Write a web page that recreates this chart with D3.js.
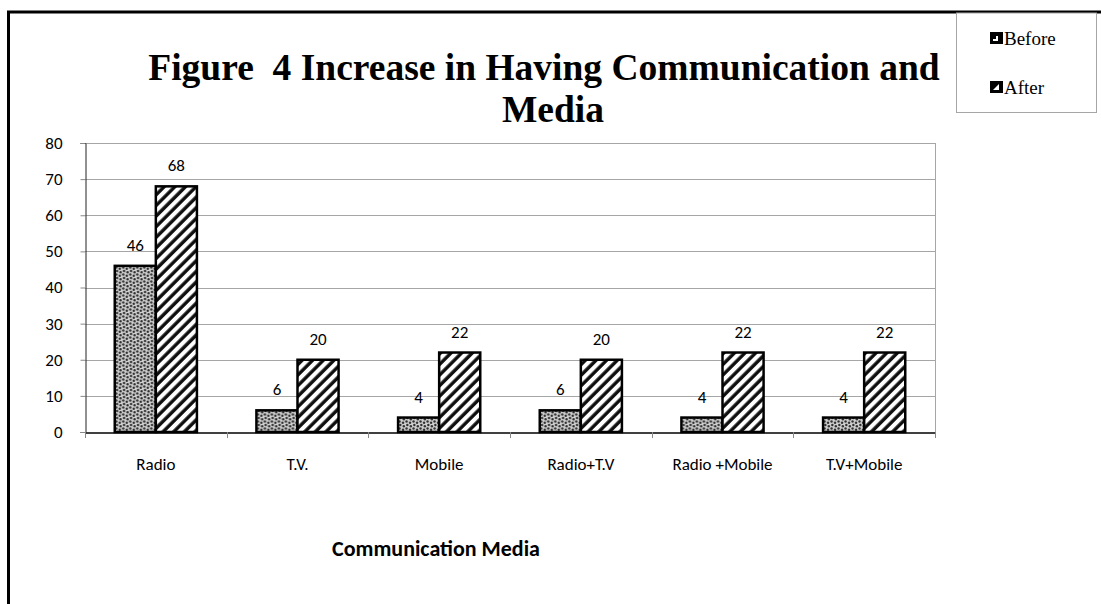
<!DOCTYPE html>
<html>
<head>
<meta charset="utf-8">
<script src="https://cdn.jsdelivr.net/npm/d3@7"></script>
<style>
  html, body { margin: 0; padding: 0; background: #fff; }
  svg { display: block; }
</style>
</head>
<body>
<svg id="chart" width="1101" height="604"></svg>
<script>
// Chart data
const categories = ["Radio", "T.V.", "Mobile", "Radio+T.V", "Radio +Mobile", "T.V+Mobile"];
const seriesNames = ["Before", "After"];
const beforeValues = [46, 6, 4, 6, 4, 4];
const afterValues = [68, 20, 22, 20, 22, 22];
const yTicks = [0, 10, 20, 30, 40, 50, 60, 70, 80];
const titleLines = ["Figure  4 Increase in Having Communication and", "Media"];
const xAxisTitle = "Communication Media";

const svg = d3.select("#chart");
const W = 1101, H = 604;
const plot = { left: 85, right: 935, top: 143, bottom: 432 };
const labelFont = "Carlito, Lato, 'Open Sans', sans-serif";
const labelSize = 17;
const serifFont = "'Liberation Serif', 'DejaVu Serif', serif";

// Fill patterns: fine dots for Before, wide diagonal stripes for After
const defs = svg.append("defs");
const soft = defs.append("filter").attr("id", "soft")
  .attr("x", "0").attr("y", "0").attr("width", "1").attr("height", "1");
soft.append("feGaussianBlur").attr("stdDeviation", 0.4);

const dots = defs.append("pattern").attr("id", "pat-before")
  .attr("patternUnits", "userSpaceOnUse").attr("width", 7).attr("height", 7);
const dg = dots.append("g").attr("filter", "url(#soft)");
dg.append("rect").attr("width", 7).attr("height", 7).attr("fill", "#d0d0d0");
[[1.5, 1.5], [5, 2.8], [2.3, 5], [5.8, 6.2], [-1.2, 6.2], [5.8, -0.8], [-1.2, -0.8], [2.3, -2], [1.5, 8.5]].forEach(([cx, cy]) => {
  dg.append("circle").attr("cx", cx).attr("cy", cy).attr("r", 1.2).attr("fill", "#2e2e2e");
});

const stripes = defs.append("pattern").attr("id", "pat-after")
  .attr("patternUnits", "userSpaceOnUse").attr("width", 7.5).attr("height", 10)
  .attr("patternTransform", "rotate(45)");
stripes.append("rect").attr("width", 7.5).attr("height", 10).attr("fill", "#fff");
stripes.append("rect").attr("x", 0.3).attr("width", 3.4).attr("height", 10).attr("fill", "#111")
  .attr("filter", "url(#soft)");

const fills = { Before: "url(#pat-before)", After: "url(#pat-after)" };

// Outer chart frame (runs off the right and bottom edges)
svg.append("rect")
  .attr("x", 8.5).attr("y", 12).attr("width", W + 20).attr("height", H + 20)
  .attr("fill", "none").attr("stroke", "#000").attr("stroke-width", 3);

// Scales
const x0 = d3.scaleBand().domain(categories).range([plot.left, plot.right]).paddingInner(0).paddingOuter(0);
const barW = x0.bandwidth() * 0.29;
const x1 = d3.scaleBand().domain(seriesNames).range([0, barW * 2]).padding(0);
const y = d3.scaleLinear().domain([0, 80]).range([plot.bottom, plot.top]);

// Gridlines
svg.append("g").selectAll("line").data(yTicks.filter(t => t > 0)).join("line")
  .attr("x1", plot.left).attr("x2", plot.right)
  .attr("y1", d => Math.round(y(d)) + 0.5).attr("y2", d => Math.round(y(d)) + 0.5)
  .attr("stroke", "#a6a6a6").attr("stroke-width", 1);

// Plot area right border
svg.append("line")
  .attr("x1", plot.right + 0.5).attr("x2", plot.right + 0.5)
  .attr("y1", plot.top).attr("y2", plot.bottom)
  .attr("stroke", "#a6a6a6");

// Y axis
const yAxis = svg.append("g").attr("transform", `translate(${plot.left + 0.5},0)`)
  .call(d3.axisLeft(y).tickValues(yTicks).tickSize(5).tickPadding(18));
yAxis.select(".domain").attr("stroke", "#222");
yAxis.selectAll(".tick line").attr("stroke", "#888");
yAxis.selectAll(".tick text").attr("font-family", labelFont).attr("font-size", labelSize).attr("fill", "#000");

// Bars
const rows = categories.map((c, i) => ({ cat: c, vals: [
  { s: "Before", v: beforeValues[i] }, { s: "After", v: afterValues[i] }
] }));
const groups = svg.append("g").selectAll("g").data(rows).join("g")
  .attr("transform", d => `translate(${x0(d.cat) + (x0.bandwidth() - barW * 2) / 2},0)`);

groups.selectAll("rect").data(d => d.vals).join("rect")
  .attr("x", d => x1(d.s)).attr("width", x1.bandwidth())
  .attr("y", d => y(d.v)).attr("height", d => y(0) - y(d.v))
  .attr("fill", d => fills[d.s]).attr("stroke", "#000").attr("stroke-width", 2.5);

groups.selectAll("text").data(d => d.vals).join("text")
  .attr("x", d => x1(d.s) + x1.bandwidth() / 2).attr("y", d => y(d.v) - 15)
  .attr("text-anchor", "middle").attr("font-family", labelFont).attr("font-size", labelSize)
  .attr("fill", "#000").text(d => d.v);

// X axis
const xAxis = svg.append("g").attr("transform", `translate(0,${plot.bottom + 0.5})`)
  .call(d3.axisBottom(x0).tickSize(0).tickPadding(25));
xAxis.select(".domain").attr("stroke", "#000").attr("stroke-width", 1.5);
xAxis.selectAll(".tick text").attr("font-family", labelFont).attr("font-size", labelSize).attr("fill", "#000");
svg.append("g").selectAll("line")
  .data(categories.map(c => x0(c)).concat([plot.right]))
  .join("line")
  .attr("x1", d => Math.round(d) + 0.5).attr("x2", d => Math.round(d) + 0.5)
  .attr("y1", plot.bottom).attr("y2", plot.bottom + 6)
  .attr("stroke", "#888");

// Axis title
svg.append("text")
  .attr("x", 436).attr("y", 556).attr("text-anchor", "middle")
  .attr("font-family", labelFont).attr("font-size", 22).attr("font-weight", "bold")
  .text(xAxisTitle);

// Chart title
svg.append("text")
  .attr("font-family", serifFont).attr("font-weight", "bold").attr("font-size", 37.5)
  .attr("text-anchor", "middle").style("white-space", "pre")
  .selectAll("tspan").data(titleLines).join("tspan")
  .attr("x", (d, i) => i === 0 ? 544 : 553)
  .attr("y", (d, i) => 80 + i * 42)
  .text(d => d);

// Legend
const legend = svg.append("g");
legend.append("rect")
  .attr("x", 956.5).attr("y", 13).attr("width", 140).attr("height", 99.5)
  .attr("fill", "#fff").attr("stroke", "#a6a6a6");
const li = legend.selectAll("g").data(seriesNames).join("g")
  .attr("transform", (d, i) => `translate(990,${45 + i * 49})`);
li.append("rect").attr("x", 0).attr("y", -13).attr("width", 13).attr("height", 12).attr("fill", "#000");
li.append("path")
  .attr("d", (d, i) => i === 0 ? "M3,-4 L8,-4 L8,-9 L6,-9 L6,-6 L3,-6 Z" : "M3,-4 L9,-4 L9,-10 Z")
  .attr("fill", "#fff");
li.append("text").attr("x", 14).attr("y", 0)
  .attr("font-family", serifFont).attr("font-size", 19).attr("fill", "#000")
  .text(d => d);
</script>
</body>
</html>
